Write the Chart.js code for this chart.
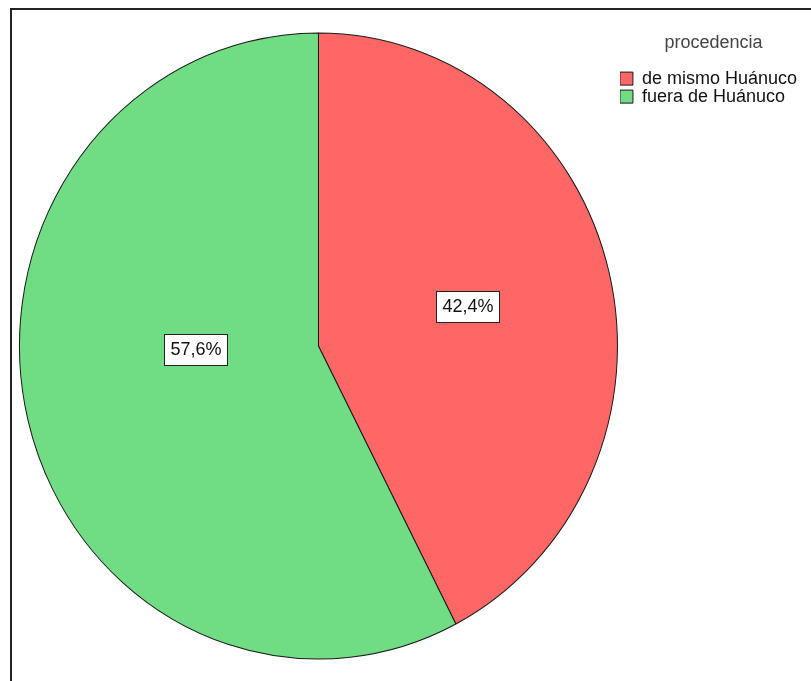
<!DOCTYPE html>
<html>
<head>
<meta charset="utf-8">
<script src="https://cdn.jsdelivr.net/npm/chart.js@4/dist/chart.umd.min.js"></script>
<style>
  body { margin: 0; background: #fff; }
  #wrap { position: relative; width: 811px; height: 681px; }
  #frame { position: absolute; left: 10px; top: 8px; right: -10px; bottom: -10px;
           border-left: 2px solid #222; border-top: 2px solid #222; pointer-events: none; }
</style>
</head>
<body>
<div id="wrap">
  <canvas id="myPieChart" width="811" height="681"></canvas>
  <div id="frame"></div>
</div>
<script>
var categories = ['de mismo Huánuco', 'fuera de Huánuco'];
var percents = [42.4, 57.6];
var valueLabels = ['42,4%', '57,6%'];
var legendTitle = 'procedencia';

// SPSS draws the pie slightly taller than wide
var ellipsePlugin = {
    id: 'ellipse',
    beforeDatasetsDraw: function(chart) {
        var arc = chart.getDatasetMeta(0).data[0];
        var ctx = chart.ctx;
        ctx.save();
        ctx.translate(arc.x, arc.y);
        ctx.scale(1, 1.047);
        ctx.translate(-arc.x, -arc.y);
    },
    afterDatasetsDraw: function(chart) {
        chart.ctx.restore();
    }
};

// boxed percentage labels
var boxLabels = {
    id: 'boxLabels',
    afterDatasetsDraw: function(chart, args, opts) {
        var ctx = chart.ctx;
        var meta = chart.getDatasetMeta(0);
        meta.data.forEach(function(arc, i) {
            var p = opts.place[i];
            var a = (p.angle - 90) * Math.PI / 180;
            var r = arc.outerRadius * p.r;
            var x = arc.x + Math.cos(a) * r;
            var y = arc.y + Math.sin(a) * r * 1.047;
            ctx.save();
            ctx.font = '18px "Liberation Sans", Arial, sans-serif';
            var txt = valueLabels[i];
            var w = Math.round(ctx.measureText(txt).width + 12);
            var h = 31;
            var bx = Math.round(x - w / 2), by = Math.round(y - h / 2);
            ctx.fillStyle = 'rgba(0,0,0,0.35)';
            ctx.fillRect(bx + 1, by + 1, w, h);
            ctx.fillStyle = '#fff';
            ctx.fillRect(bx, by, w, h);
            ctx.strokeStyle = '#222';
            ctx.lineWidth = 1;
            ctx.strokeRect(bx + 0.5, by + 0.5, w, h);
            ctx.fillStyle = '#111';
            ctx.textAlign = 'center';
            ctx.textBaseline = 'middle';
            ctx.fillText(txt, bx + w / 2 + 0.5, by + h / 2 + 1);
            ctx.restore();
        });
    }
};

var ctx = document.getElementById('myPieChart').getContext('2d');
var myChart = new Chart(ctx, {
    type: 'pie',
    data: {
        labels: categories,
        datasets: [{
            data: percents,
            backgroundColor: ['#ff6666', '#70dc84'],
            borderColor: '#1a1a1a',
            borderWidth: 1,
            radius: 299
        }]
    },
    plugins: [ellipsePlugin, boxLabels],
    options: {
        responsive: false,
        animation: false,
        events: [],
        layout: { padding: { left: 17, top: 34, bottom: 23, right: 4 } },
        plugins: {
            tooltip: { enabled: false },
            legend: {
                position: 'right',
                align: 'start',
                title: {
                    display: true,
                    text: legendTitle,
                    color: '#444',
                    font: { family: '"Liberation Sans", Arial, sans-serif', size: 18 },
                    padding: { top: 0, bottom: 14 }
                },
                labels: {
                    boxWidth: 13,
                    boxHeight: 13,
                    padding: 0,
                    color: '#111',
                    font: { family: '"Liberation Sans", Arial, sans-serif', size: 18 }
                }
            },
            boxLabels: {
                place: [ { angle: 75.7, r: 0.515 }, { angle: 268.6, r: 0.41 } ]
            }
        }
    }
});
</script>
</body>
</html>
